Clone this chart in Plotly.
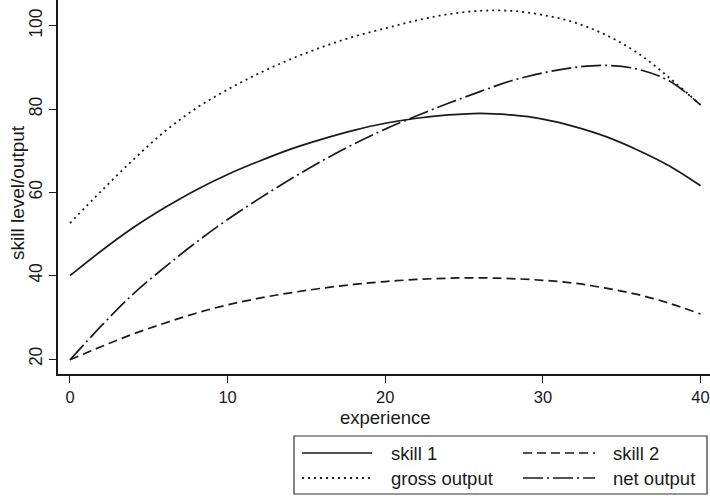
import plotly.graph_objects as go

experience = [0, 2, 4, 6, 8, 10, 12, 14, 16, 18, 20, 22, 24, 26, 28, 30, 32, 34, 36, 38, 40]
skill_1 = [40.0, 46.0, 51.5, 56.3, 60.6, 64.3, 67.5, 70.4, 72.8, 74.9, 76.6, 77.8, 78.6, 79.0, 78.6, 77.6, 75.8, 73.4, 70.2, 66.4, 61.6]
skill_2 = [19.8, 23.0, 26.0, 28.6, 31.0, 33.0, 34.6, 35.9, 37.0, 37.9, 38.6, 39.1, 39.4, 39.5, 39.3, 38.9, 38.2, 37.0, 35.5, 33.4, 30.8]
gross_output = [52.6, 60.4, 67.8, 74.6, 80.2, 84.7, 88.6, 92.0, 94.9, 97.4, 99.4, 101.3, 102.8, 103.6, 103.6, 102.6, 100.8, 97.8, 93.5, 87.6, 81.0]
net_output = [19.8, 28.0, 35.6, 42.0, 48.0, 53.5, 58.5, 63.2, 67.6, 71.6, 75.2, 78.4, 81.4, 84.2, 86.8, 88.7, 90.0, 90.5, 89.6, 86.8, 81.0]

x_ticks = [0, 10, 20, 30, 40]
y_ticks = [20, 40, 60, 80, 100]

FONT = "Liberation Sans, Arial, sans-serif"
INK = "#1a1a1a"

series = [
    ("skill 1", skill_1, "solid", 1.7),
    ("skill 2", skill_2, "9px,5px", 1.7),
    ("gross output", gross_output, "2px,4px", 1.8),
    ("net output", net_output, "20px,4px,2px,4px", 1.7),
]

fig = go.Figure()
for name, vals, dash, w in series:
    fig.add_trace(go.Scatter(
        x=experience, y=vals, mode="lines", name=name,
        line=dict(color=INK, width=w, dash=dash, shape="spline", smoothing=1.0),
        showlegend=False,
    ))

# plot-area pixel helpers (plot area: x 58..710, y 0..374)
L, R, T, B = 58, 710, 0, 374
def px(xp):
    return (xp - L) / (R - L)
def py(yp):
    return (B - yp) / (B - T)

shapes = []
annotations = []
# custom legend box
shapes.append(dict(type="rect", xref="paper", yref="paper",
                   x0=px(294), x1=px(707), y0=py(436), y1=py(494),
                   line=dict(color="#333333", width=1.2), fillcolor="white", layer="above"))
legend_pos = [
    (series[0], 302, 372, 389, 453),
    (series[1], 523, 595, 611, 453),
    (series[2], 302, 372, 389, 478),
    (series[3], 523, 595, 611, 478),
]
for (name, _, dash, w), x0, x1, tx, yy in legend_pos:
    shapes.append(dict(type="line", xref="paper", yref="paper",
                       x0=px(x0), x1=px(x1), y0=py(yy), y1=py(yy),
                       line=dict(color=INK, width=w, dash=dash)))
    annotations.append(dict(xref="paper", yref="paper", x=px(tx), y=py(yy),
                            text=name, showarrow=False, xanchor="left", yanchor="middle",
                            font=dict(family=FONT, size=18.5, color=INK)))

# axis titles
annotations.append(dict(xref="paper", yref="paper", x=px(385), y=py(417),
                        text="experience", showarrow=False, xanchor="center", yanchor="middle",
                        font=dict(family=FONT, size=18.5, color=INK)))
annotations.append(dict(xref="paper", yref="paper", x=px(17), y=py(193),
                        text="skill level/output", showarrow=False, textangle=-90,
                        xanchor="center", yanchor="middle",
                        font=dict(family=FONT, size=19, color=INK)))

fig.update_layout(
    width=710, height=496,
    margin=dict(l=L, r=710 - R, t=T, b=496 - B),
    paper_bgcolor="white", plot_bgcolor="white",
    font=dict(family=FONT, size=17, color=INK),
    shapes=shapes, annotations=annotations,
    xaxis=dict(range=[-0.76, 40.6], tickvals=x_ticks, ticktext=[str(v) for v in x_ticks],
               showgrid=False, zeroline=False, showline=True, linecolor=INK, linewidth=1.5,
               ticks="outside", ticklen=7, tickwidth=1.2, tickcolor=INK,
               ticklabeloverflow="allow",
               tickfont=dict(family=FONT, size=16.5, color=INK)),
    yaxis=dict(range=[16.4, 106.2], tickvals=y_ticks, ticktext=[str(v) for v in y_ticks],
               showgrid=False, zeroline=False, showline=True, linecolor=INK, linewidth=1.5,
               ticks="outside", ticklen=7, tickwidth=1.2, tickcolor=INK, tickangle=-90,
               ticklabeloverflow="allow",
               tickfont=dict(family=FONT, size=17.5, color=INK)),
)

fig.write_html("out.html", config={"displayModeBar": False},
               post_script="document.body.style.margin='0';document.body.style.overflow='hidden';")
